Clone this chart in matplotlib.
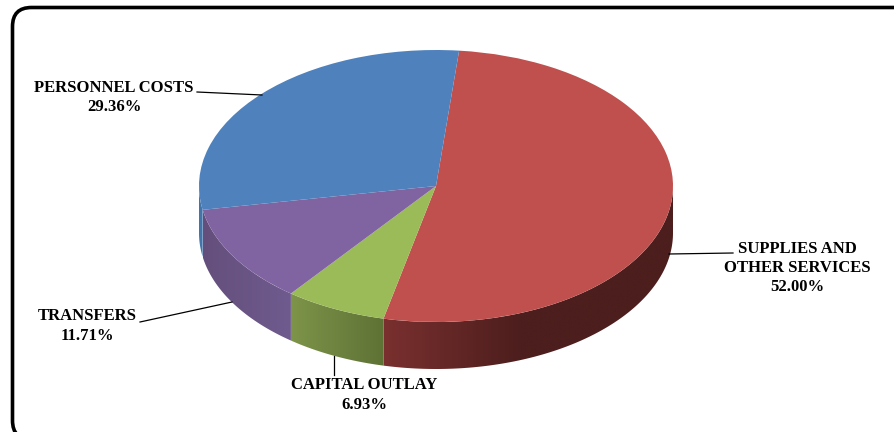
import numpy as np
import matplotlib
matplotlib.use("Agg")
import matplotlib.pyplot as plt
from matplotlib.patches import FancyBboxPatch, Polygon
from matplotlib.transforms import Affine2D
from matplotlib.colors import to_rgb

categories = ["SUPPLIES AND\nOTHER SERVICES", "CAPITAL OUTLAY", "TRANSFERS", "PERSONNEL COSTS"]
shares = [52.00, 6.93, 11.71, 29.36]
top_colors = ["#c0504d", "#9bbb59", "#8064a2", "#4f81bd"]
wall_left = ["#7a302f", "#7d9449", "#644f7c", "#4474ab"]
wall_right = ["#4c1e1d", "#5e7235", "#6f5b8e", "#4474ab"]

W, H = 894, 432
CX, CY, RX, RY, DEPTH = 436, 186, 237, 136, 47
START = 84.4

fig = plt.figure(figsize=(W / 100, H / 100), dpi=100, facecolor="white")
ax = fig.add_axes([0, 0, 1, 1])
px = Affine2D().scale(1, -1).translate(0, H)

wedges, _ = ax.pie(shares, colors=top_colors, startangle=START, counterclock=False,
                   wedgeprops=dict(linewidth=0, zorder=3))
ax.set_aspect("auto")
ax.axis("off")

# rounded frame (its lower edge runs off the image)
frame = FancyBboxPatch((12.5, 7.5), 1000, 432, boxstyle="round,pad=0,rounding_size=19",
                       fc="white", ec="black", lw=2.6, transform=px, zorder=0)
ax.add_patch(frame)

# side wall, one smooth gradient per slice clipped to its outline
d = DEPTH / RY
bounds = 90 - START + np.concatenate([[0], np.cumsum(shares)]) * 3.6
for i in range(len(shares)):
    a0 = max(bounds[i], 90)
    a1 = min(bounds[i + 1], 270)
    if a1 <= a0:
        continue
    th = np.radians(np.linspace(a0, a1, 200))
    x = np.sin(th)
    y = np.cos(th)
    outline = np.vstack([np.column_stack([x, y]), np.column_stack([x[::-1], y[::-1] - d])])
    xl, xr = x.min(), x.max()
    span = 0.58 if i == 0 else max(xr - xl, 1e-6)
    t = np.clip((np.linspace(xl, xr, 400) - xl) / span, 0, 1)[None, :, None]
    # walls run clockwise, so index 0 of the gradient is the left of the picture
    L, R = np.array(to_rgb(wall_left[i])), np.array(to_rgb(wall_right[i]))
    img = ax.imshow(L + (R - L) * t, extent=(xl, xr, y.min() - d, y.max()), aspect="auto",
                    origin="lower", zorder=2, interpolation="bilinear")
    clip = Polygon(outline, closed=True, transform=ax.transData, fc="none", ec="none")
    ax.add_patch(clip)
    img.set_clip_path(clip)

ax.set_xlim(-CX / RX, (W - CX) / RX)
ax.set_ylim((CY - H) / RY, CY / RY)

# leader lines
leaders = [([669, 733], [254, 253]), ([334, 334], [356, 375]),
           ([140, 232], [322, 302]), ([197, 262], [92, 95])]
for lx, ly in leaders:
    ax.plot(lx, ly, color="black", lw=0.9, transform=px, zorder=4)

# labels
label_pos = [(797, 268), (364, 395), (87, 326), (114, 97.5)]
for name, val, (tx, ty) in zip(categories, shares, label_pos):
    ax.text(tx, ty, f"{name}\n{val:.2f}%", transform=px, ha="center", va="center",
            family="Liberation Serif", weight="bold", fontsize=12, color="black",
            linespacing=1.27, zorder=5)

fig.savefig("out.png", dpi=100)
